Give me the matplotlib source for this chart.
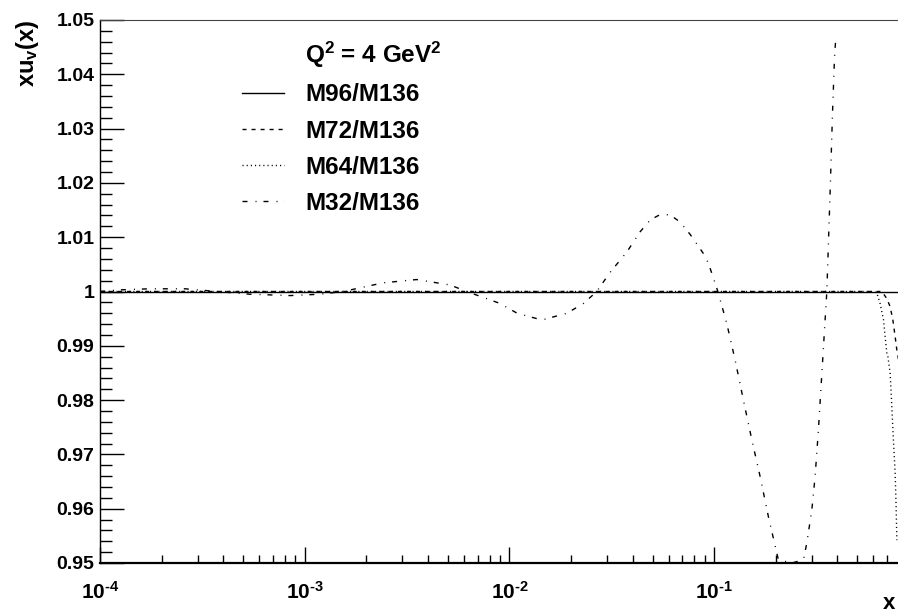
import matplotlib
matplotlib.use("Agg")
import matplotlib.pyplot as plt
from matplotlib.lines import Line2D
from matplotlib.ticker import MultipleLocator, LogLocator, FixedLocator, FixedFormatter, FuncFormatter

plt.rcParams['font.family'] = ['Liberation Sans', 'DejaVu Sans']
plt.rcParams['font.weight'] = 'bold'
plt.rcParams['mathtext.fontset'] = 'custom'
plt.rcParams['mathtext.rm'] = 'Liberation Sans:bold'
plt.rcParams['mathtext.it'] = 'Liberation Sans:bold'
plt.rcParams['mathtext.bf'] = 'Liberation Sans:bold'
plt.rcParams['mathtext.default'] = 'bf'

# ratios
x_m96 = [1e-4, 0.8]
y_m96 = [1.0, 1.0]

x_m72 = [1e-4, 0.60, 0.6595, 0.6977, 0.724, 0.7464, 0.766, 0.781, 0.80]
y_m72 = [1.0, 1.0, 1.0, 0.9987, 0.9972, 0.9948, 0.9917, 0.9892, 0.987]

x_m64 = [1e-4, 0.60, 0.624, 0.6466, 0.672, 0.6844, 0.6972, 0.706, 0.724,
         0.738, 0.751, 0.766, 0.7745, 0.781]
y_m64 = [1.0, 1.0, 0.9997, 0.9978, 0.9948, 0.9917, 0.9887, 0.988, 0.985,
         0.9788, 0.9727, 0.9666, 0.9604, 0.9542]

x_m32 = [1.0e-4, 1.25e-4, 1.75e-4, 2.6e-4, 3.72e-4, 5.4e-4, 8.5e-4, 1.19e-3,
         1.54e-3, 2.42e-3, 3.52e-3, 5.13e-3, 6.18e-3, 9.0e-3, 1.09e-2, 1.44e-2,
         1.91e-2, 2.30e-2, 2.67e-2, 3.10e-2, 3.75e-2, 4.35e-2, 4.88e-2, 5.47e-2,
         6.10e-2, 6.82e-2, 7.64e-2, 8.86e-2, 9.38e-2, 0.1043, 0.1153, 0.1266,
         0.1390, 0.1528, 0.1678, 0.1842, 0.2025, 0.206, 0.24, 0.2731, 0.2837,
         0.3001, 0.3113, 0.3232, 0.3553, 0.3687, 0.3784, 0.3872, 0.3932]
y_m32 = [1.0000, 1.0003, 1.0005, 1.0005, 1.0000, 0.9995, 0.99925, 0.9995,
         1.0000, 1.0016, 1.0022, 1.0012, 1.0000, 0.9978, 0.9960, 0.99475,
         0.9960, 0.9978, 1.0000, 1.0035, 1.0073, 1.0110, 1.0132, 1.0142,
         1.0141, 1.0128, 1.0105, 1.0070, 1.0052, 1.0000, 0.9941, 0.9874,
         0.9800, 0.9727, 0.9659, 0.9585, 0.9518, 0.9506, 0.9500, 0.9506, 0.9537,
         0.9598, 0.9659, 0.9745, 1.0000, 1.0184, 1.0325, 1.0430, 1.0469]

labels = ['M96/M136', 'M72/M136', 'M64/M136', 'M32/M136']
title = 'Q$^2$ = 4 GeV$^2$'
x_ticks = [1e-4, 1e-3, 1e-2, 1e-1]
x_ticklabels = ['10$^{\\text{-4}}$', '10$^{\\text{-3}}$', '10$^{\\text{-2}}$', '10$^{\\text{-1}}$']

W, H = 898, 616
fig = plt.figure(figsize=(W / 100, H / 100), dpi=100)
ax = fig.add_axes([100 / W, (H - 563) / H, 799 / W, 543 / H])

lw = 1.0
ax.plot(x_m96, y_m96, color='black', lw=lw, label=labels[0])
ax.plot(x_m72, y_m72, color='black', lw=lw, dashes=(2.9, 3.6), label=labels[1])
ax.plot(x_m64, y_m64, color='black', lw=lw, dashes=(0.8, 2.2), label=labels[2])
ax.plot(x_m32, y_m32, color='black', lw=lw, dashes=(3.6, 5.8, 0.7, 5.0), label=labels[3])

ax.set_xscale('log')
ax.set_xlim(1e-4, 0.8)
ax.set_ylim(0.95, 1.05)

ax.xaxis.set_major_locator(FixedLocator(x_ticks))
ax.xaxis.set_major_formatter(FixedFormatter(x_ticklabels))
ax.xaxis.set_minor_locator(LogLocator(base=10, subs=range(2, 10)))
ax.xaxis.set_minor_formatter(FuncFormatter(lambda v, p: ''))
ax.yaxis.set_major_locator(MultipleLocator(0.01))
ax.yaxis.set_minor_locator(MultipleLocator(0.002))
ax.yaxis.set_major_formatter(FuncFormatter(lambda v, p: '%g' % round(v, 3)))

ax.tick_params(axis='both', which='both', direction='in', top=False, right=False,
               colors='black', labelsize=14)
ax.tick_params(axis='x', which='major', length=11.5, width=1, pad=13, labelsize=15)
ax.tick_params(axis='x', which='minor', length=5.8, width=1)
ax.tick_params(axis='y', which='major', length=17, width=1, pad=4)
ax.tick_params(axis='y', which='minor', length=8.5, width=1)

ax.spines['left'].set_linewidth(1.0)
ax.spines['bottom'].set_linewidth(1.6)
ax.spines['top'].set_linewidth(0.8)
ax.spines['top'].set_color('#444444')
ax.spines['right'].set_visible(False)

ax.set_ylabel('xu$_v$(x)', fontsize=17, fontweight='bold', loc='top')
ax.yaxis.set_label_coords(-0.074, 1.0)
ax.set_xlabel('x', fontsize=16, fontweight='bold', loc='right')
ax.xaxis.set_label_coords(0.995, -0.056)

handles = [Line2D([], [], color='none')] + ax.get_lines()
ax.legend(handles, [title] + labels, loc='upper left', bbox_to_anchor=(0.178, 0.963),
          frameon=False, fontsize=17.5, handlelength=1.7, handletextpad=0.9,
          labelspacing=0.54, borderpad=0, borderaxespad=0)

fig.savefig('out.png', dpi=100)
